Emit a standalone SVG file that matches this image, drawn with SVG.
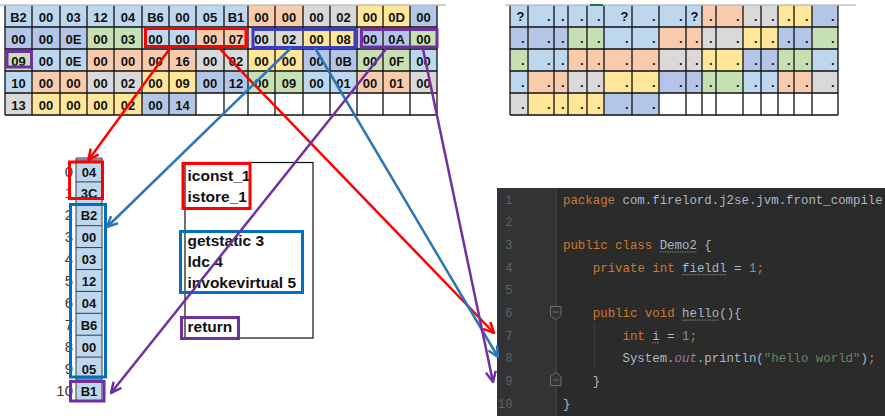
<svg xmlns="http://www.w3.org/2000/svg" width="885" height="416" viewBox="0 0 885 416">
<style>
.lb{fill:#BDD7EE}.pb{fill:#B4C6E7}.sa{fill:#F8CBAD}.gr{fill:#D9D9D9}.ye{fill:#FFE699}.gn{fill:#C6E0B4}.wh{fill:#FFFFFF}
.grid{stroke:#111;stroke-width:1.3;fill:none}
.hex{font-family:"Liberation Sans",Arial,sans-serif;font-weight:bold;font-size:13px;fill:#111;text-anchor:middle}
.dot{font-family:"Liberation Sans",Arial,sans-serif;font-weight:bold;font-size:13px;fill:#111;text-anchor:end}
.idx{font-family:"Liberation Sans",Arial,sans-serif;font-size:15px;fill:#4a3526;text-anchor:end}
.ins{font-family:"Liberation Sans",Arial,sans-serif;font-weight:bold;font-size:15.5px;fill:#111}
.code{font-family:"Liberation Mono","DejaVu Sans Mono",monospace;font-size:12.4px;fill:#A9B7C6;white-space:pre}
.ln{font-family:"Liberation Mono","DejaVu Sans Mono",monospace;font-size:12px;fill:#606366;text-anchor:end}
.kw{fill:#CC7832}.num{fill:#6897BB}.str{fill:#6A8759}.fld{fill:#9876AA;font-style:italic}
.wave{stroke:#8a8a70;stroke-width:1;stroke-dasharray:1.5 1;fill:none}
.box{fill:none;stroke-width:3}
.r{stroke:#FF0000}.b{stroke:#0070C0}.p{stroke:#7030A0}.ib{stroke:#3B3BC4}
.conn{fill:none;stroke-width:2.5}
</style>
<defs>
<marker id="ar" viewBox="0 0 12 12" refX="11" refY="6" markerWidth="12" markerHeight="12" markerUnits="userSpaceOnUse" orient="auto"><path d="M0.5,1 L11,6 L0.5,11" fill="none" stroke="#FF0000" stroke-width="2.5"/></marker>
<marker id="ab" viewBox="0 0 12 12" refX="11" refY="6" markerWidth="12" markerHeight="12" markerUnits="userSpaceOnUse" orient="auto"><path d="M0.5,1 L11,6 L0.5,11" fill="none" stroke="#2E75B6" stroke-width="2.5"/></marker>
<marker id="ap" viewBox="0 0 12 12" refX="11" refY="6" markerWidth="12" markerHeight="12" markerUnits="userSpaceOnUse" orient="auto"><path d="M0.5,1 L11,6 L0.5,11" fill="none" stroke="#7030A0" stroke-width="2.5"/></marker>
</defs>
<rect width="885" height="416" fill="#FFFFFF"/>

<g id="hex-table">
<rect class="lb" x="5" y="5" width="243" height="22"/><rect class="sa" x="248" y="5" width="55" height="22"/><rect class="gr" x="303" y="5" width="54" height="22"/><rect class="ye" x="357" y="5" width="53" height="22"/><rect class="pb" x="410" y="5" width="27" height="22"/>
<rect class="pb" x="5" y="27" width="82" height="22"/><rect class="gn" x="87" y="27" width="55" height="22"/><rect class="lb" x="142" y="27" width="54" height="22"/><rect class="sa" x="196" y="27" width="52" height="22"/><rect class="gr" x="248" y="27" width="55" height="22"/><rect class="ye" x="303" y="27" width="54" height="22"/><rect class="pb" x="357" y="27" width="53" height="22"/><rect class="gn" x="410" y="27" width="27" height="22"/>
<rect class="gn" x="5" y="49" width="27" height="22"/><rect class="lb" x="32" y="49" width="55" height="22"/><rect class="sa" x="87" y="49" width="109" height="22"/><rect class="gr" x="196" y="49" width="52" height="22"/><rect class="ye" x="248" y="49" width="55" height="22"/><rect class="pb" x="303" y="49" width="54" height="22"/><rect class="gn" x="357" y="49" width="53" height="22"/><rect class="lb" x="410" y="49" width="27" height="22"/>
<rect class="lb" x="5" y="71" width="27" height="22"/><rect class="sa" x="32" y="71" width="55" height="22"/><rect class="gr" x="87" y="71" width="55" height="22"/><rect class="ye" x="142" y="71" width="54" height="22"/><rect class="pb" x="196" y="71" width="52" height="22"/><rect class="gn" x="248" y="71" width="55" height="22"/><rect class="lb" x="303" y="71" width="54" height="22"/><rect class="sa" x="357" y="71" width="53" height="22"/><rect class="gr" x="410" y="71" width="27" height="22"/>
<rect class="gr" x="5" y="93" width="27" height="22"/><rect class="ye" x="32" y="93" width="110" height="22"/><rect class="pb" x="142" y="93" width="54" height="22"/>
<path class="grid" d="M5,27H437M5,49H437M5,71H437M5,93H437M5,115H437M5,5V115M32,5V115M60,5V115M87,5V115M114,5V115M142,5V115M169,5V115M196,5V115M224,5V115M248,5V115M275,5V115M303,5V115M330,5V115M357,5V115M383,5V115M410,5V115M437,5V115"/>
<path d="M0,5H446" stroke="#BFBFBF" stroke-width="1.5"/>
<text class="hex" y="21.5"><tspan x="18.5">B2</tspan><tspan x="46">00</tspan><tspan x="73.5">03</tspan><tspan x="100.5">12</tspan><tspan x="128">04</tspan><tspan x="155.5">B6</tspan><tspan x="182.5">00</tspan><tspan x="210">05</tspan><tspan x="236">B1</tspan><tspan x="261.5">00</tspan><tspan x="289">00</tspan><tspan x="316.5">00</tspan><tspan x="343.5">02</tspan><tspan x="370">00</tspan><tspan x="396.5">0D</tspan><tspan x="423.5">00</tspan></text>
<text class="hex" y="43.5"><tspan x="18.5">00</tspan><tspan x="46">00</tspan><tspan x="73.5">0E</tspan><tspan x="100.5">00</tspan><tspan x="128">03</tspan><tspan x="155.5">00</tspan><tspan x="182.5">00</tspan><tspan x="210">00</tspan><tspan x="236">07</tspan><tspan x="261.5">00</tspan><tspan x="289">02</tspan><tspan x="316.5">00</tspan><tspan x="343.5">08</tspan><tspan x="370">00</tspan><tspan x="396.5">0A</tspan><tspan x="423.5">00</tspan></text>
<text class="hex" y="65.5"><tspan x="18.5">09</tspan><tspan x="46">00</tspan><tspan x="73.5">0E</tspan><tspan x="100.5">00</tspan><tspan x="128">00</tspan><tspan x="155.5">00</tspan><tspan x="182.5">16</tspan><tspan x="210">00</tspan><tspan x="236">02</tspan><tspan x="261.5">00</tspan><tspan x="289">00</tspan><tspan x="316.5">00</tspan><tspan x="343.5">0B</tspan><tspan x="370">00</tspan><tspan x="396.5">0F</tspan><tspan x="423.5">00</tspan></text>
<text class="hex" y="87.5"><tspan x="18.5">10</tspan><tspan x="46">00</tspan><tspan x="73.5">00</tspan><tspan x="100.5">00</tspan><tspan x="128">02</tspan><tspan x="155.5">00</tspan><tspan x="182.5">09</tspan><tspan x="210">00</tspan><tspan x="236">12</tspan><tspan x="261.5">00</tspan><tspan x="289">09</tspan><tspan x="316.5">00</tspan><tspan x="343.5">01</tspan><tspan x="370">00</tspan><tspan x="396.5">01</tspan><tspan x="423.5">00</tspan></text>
<text class="hex" y="109.5"><tspan x="18.5">13</tspan><tspan x="46">00</tspan><tspan x="73.5">00</tspan><tspan x="100.5">00</tspan><tspan x="128">02</tspan><tspan x="155.5">00</tspan><tspan x="182.5">14</tspan></text>
<rect class="box r" x="145.5" y="28.5" width="100.5" height="18"/>
<rect class="box ib" x="253" y="29.5" width="102" height="18"/>
<rect class="box p" x="361.5" y="29.5" width="75.5" height="17.5"/>
<rect class="box p" x="7" y="51.5" width="24.5" height="15.5"/>
</g>

<g id="text-grid">
<rect class="lb" x="510" y="5" width="192" height="22"/><rect class="sa" x="702" y="5" width="41" height="22"/><rect class="gr" x="743" y="5" width="35" height="22"/><rect class="ye" x="778" y="5" width="34" height="22"/><rect class="pb" x="812" y="5" width="26" height="22"/>
<rect class="pb" x="510" y="27" width="58" height="22"/><rect class="gn" x="568" y="27" width="36" height="22"/><rect class="lb" x="604" y="27" width="55" height="22"/><rect class="sa" x="659" y="27" width="43" height="22"/><rect class="gr" x="702" y="27" width="41" height="22"/><rect class="ye" x="743" y="27" width="35" height="22"/><rect class="pb" x="778" y="27" width="34" height="22"/><rect class="gn" x="812" y="27" width="26" height="22"/>
<rect class="gn" x="510" y="49" width="18" height="22"/><rect class="lb" x="528" y="49" width="40" height="22"/><rect class="sa" x="568" y="49" width="91" height="22"/><rect class="gr" x="659" y="49" width="43" height="22"/><rect class="ye" x="702" y="49" width="41" height="22"/><rect class="pb" x="743" y="49" width="35" height="22"/><rect class="gn" x="778" y="49" width="34" height="22"/><rect class="lb" x="812" y="49" width="26" height="22"/>
<rect class="lb" x="510" y="71" width="18" height="22"/><rect class="sa" x="528" y="71" width="40" height="22"/><rect class="gr" x="568" y="71" width="36" height="22"/><rect class="ye" x="604" y="71" width="55" height="22"/><rect class="pb" x="659" y="71" width="43" height="22"/><rect class="gn" x="702" y="71" width="41" height="22"/><rect class="lb" x="743" y="71" width="35" height="22"/><rect class="sa" x="778" y="71" width="34" height="22"/><rect class="gr" x="812" y="71" width="26" height="22"/>
<rect class="gr" x="510" y="93" width="18" height="22"/><rect class="ye" x="528" y="93" width="76" height="22"/><rect class="pb" x="604" y="93" width="55" height="22"/>
<path class="grid" d="M510,27H838M510,49H838M510,71H838M510,93H838M510,115H838M510,5V115M528,5V115M554,5V115M568,5V115M587,5V115M604,5V115M632,5V115M659,5V115M686,5V115M702,5V115M716,5V115M743,5V115M761,5V115M778,5V115M794,5V115M812,5V115M838,5V115"/>
<path d="M505,5H856" stroke="#BFBFBF" stroke-width="1.5"/>
<path d="M590,5H603" stroke="#217346" stroke-width="2"/>
<text class="dot" y="21"><tspan x="524.5">?</tspan><tspan x="550.5">.</tspan><tspan x="564.5">.</tspan><tspan x="583.5">.</tspan><tspan x="600.5">.</tspan><tspan x="628.5">?</tspan><tspan x="655.5">.</tspan><tspan x="682.5">.</tspan><tspan x="698.5">?</tspan><tspan x="712.5">.</tspan><tspan x="739.5">.</tspan><tspan x="757.5">.</tspan><tspan x="774.5">.</tspan><tspan x="790.5">.</tspan><tspan x="808.5">.</tspan><tspan x="834.5">.</tspan></text>
<text class="dot" y="43"><tspan x="524.5">.</tspan><tspan x="550.5">.</tspan><tspan x="564.5">.</tspan><tspan x="583.5">.</tspan><tspan x="600.5">.</tspan><tspan x="628.5">.</tspan><tspan x="655.5">.</tspan><tspan x="682.5">.</tspan><tspan x="698.5">.</tspan><tspan x="712.5">.</tspan><tspan x="739.5">.</tspan><tspan x="757.5">.</tspan><tspan x="774.5">.</tspan><tspan x="790.5">.</tspan><tspan x="808.5">.</tspan><tspan x="834.5">.</tspan></text>
<text class="dot" y="65"><tspan x="524.5">.</tspan><tspan x="550.5">.</tspan><tspan x="564.5">.</tspan><tspan x="583.5">.</tspan><tspan x="600.5">.</tspan><tspan x="628.5">.</tspan><tspan x="655.5">.</tspan><tspan x="682.5">.</tspan><tspan x="698.5">.</tspan><tspan x="712.5">.</tspan><tspan x="739.5">.</tspan><tspan x="757.5">.</tspan><tspan x="774.5">.</tspan><tspan x="790.5">.</tspan><tspan x="808.5">.</tspan><tspan x="834.5">.</tspan></text>
<text class="dot" y="87"><tspan x="524.5">.</tspan><tspan x="550.5">.</tspan><tspan x="564.5">.</tspan><tspan x="583.5">.</tspan><tspan x="600.5">.</tspan><tspan x="628.5">.</tspan><tspan x="655.5">.</tspan><tspan x="682.5">.</tspan><tspan x="698.5">.</tspan><tspan x="712.5">.</tspan><tspan x="739.5">.</tspan><tspan x="757.5">.</tspan><tspan x="774.5">.</tspan><tspan x="790.5">.</tspan><tspan x="808.5">.</tspan><tspan x="834.5">.</tspan></text>
<text class="dot" y="109"><tspan x="524.5">.</tspan><tspan x="550.5">.</tspan><tspan x="564.5">.</tspan><tspan x="583.5">.</tspan><tspan x="600.5">.</tspan><tspan x="628.5">.</tspan><tspan x="655.5">.</tspan></text>
</g>

<g id="bytes-column">
<rect class="lb" x="76" y="158" width="26" height="243"/>
<path d="M76,158V401M102,158V401M76,158H102M76,160H102M76,181.9H102M76,203.8H102M76,225.7H102M76,247.6H102M76,269.5H102M76,291.4H102M76,313.3H102M76,335.2H102M76,357.1H102M76,379H102M76,400.9H102" stroke="#3a3a3a" stroke-width="1" fill="none"/>
<text class="hex" x="89"><tspan x="89" y="176.5">04</tspan><tspan x="89" y="198.4">3C</tspan><tspan x="89" y="220.3">B2</tspan><tspan x="89" y="242.2">00</tspan><tspan x="89" y="264.1">03</tspan><tspan x="89" y="286">12</tspan><tspan x="89" y="307.9">04</tspan><tspan x="89" y="329.8">B6</tspan><tspan x="89" y="351.7">00</tspan><tspan x="89" y="373.6">05</tspan><tspan x="89" y="395.5">B1</tspan></text>
<text class="idx"><tspan x="73" y="176.5">0</tspan><tspan x="73" y="198.4">1</tspan><tspan x="73" y="220.3">2</tspan><tspan x="73" y="242.2">3</tspan><tspan x="73" y="264.1">4</tspan><tspan x="73" y="286">5</tspan><tspan x="73" y="307.9">6</tspan><tspan x="73" y="329.8">7</tspan><tspan x="73" y="351.7">8</tspan><tspan x="73" y="373.6">9</tspan><tspan x="73" y="395.5">10</tspan></text>
<rect class="box r" x="69.5" y="162" width="33" height="36.5"/>
<rect class="box b" x="70.5" y="204.5" width="35" height="172.5"/>
<rect class="box p" x="70.5" y="381.5" width="33.5" height="19.5"/>
</g>

<g id="instructions">
<rect x="185" y="162.5" width="128" height="175.5" fill="#FFFFFF" stroke="#111" stroke-width="1.2"/>
<text class="ins" x="187.5" y="181">iconst_1</text>
<text class="ins" x="187.5" y="202">istore_1</text>
<text class="ins" x="187.5" y="245.5">getstatic 3</text>
<text class="ins" x="187.5" y="266.5">ldc 4</text>
<text class="ins" x="187.5" y="287.5">invokevirtual 5</text>
<text class="ins" x="187.5" y="332">return</text>
<rect class="box r" x="183" y="163.5" width="67" height="45"/>
<rect class="box b" x="180.5" y="231.5" width="122" height="61"/>
<rect class="box p" x="181.5" y="317.5" width="57" height="21"/>
</g>

<g id="code-panel">
<rect x="497" y="188" width="388" height="228" fill="#2B2B2B"/>
<rect x="497" y="188" width="59" height="228" fill="#313335"/>
<path d="M556,188V416" stroke="#4a4a4a" stroke-width="1"/>
<path d="M594.5,324V368" stroke="#3c3c3c" stroke-width="1"/>
<path d="M550.5,306.5H561V315.5L555.75,320L550.5,315.5Z M552.8,312H558.7" fill="#313335" stroke="#6e6e6e" stroke-width="1"/>
<path d="M550.5,385.5H561V376.5L555.75,372L550.5,376.5Z M552.8,380H558.7" fill="#313335" stroke="#6e6e6e" stroke-width="1"/>
<text class="ln"><tspan x="512.5" y="203.5">1</tspan><tspan x="512.5" y="226.2">2</tspan><tspan x="512.5" y="248.9">3</tspan><tspan x="512.5" y="271.6">4</tspan><tspan x="512.5" y="294.3">5</tspan><tspan x="512.5" y="317">6</tspan><tspan x="512.5" y="339.7">7</tspan><tspan x="512.5" y="362.4">8</tspan><tspan x="512.5" y="385.1">9</tspan><tspan x="512.5" y="407.8">10</tspan></text>
<text class="code" x="563" y="203.5"><tspan class="kw">package</tspan> com.firelord.j2se.jvm.front_compile</text>
<text class="code" x="563" y="248.9"><tspan class="kw">public class</tspan> Demo2 {</text>
<text class="code" x="592.8" y="271.6"><tspan class="kw">private int</tspan> fieldl = <tspan class="num">1</tspan><tspan class="kw">;</tspan></text>
<text class="code" x="592.8" y="317"><tspan class="kw">public void</tspan> hello(){</text>
<text class="code" x="622.5" y="339.7"><tspan class="kw">int</tspan> i = <tspan class="num">1</tspan><tspan class="kw">;</tspan></text>
<text class="code" x="622.5" y="362.4">System.<tspan class="fld">out</tspan>.println(<tspan class="str">"hello world"</tspan>)<tspan class="kw">;</tspan></text>
<text class="code" x="592.8" y="385.1">}</text>
<text class="code" x="563" y="407.8">}</text>
<path class="wave" d="M659.7,252H696.9M682.1,274.7H726.7M682.1,320.1H719.3M652.3,342.8H659.7"/>
</g>

<g id="connectors">
<path class="conn" stroke="#FF0000" marker-end="url(#ar)" d="M171,47L88.5,160"/>
<path class="conn" stroke="#FF0000" marker-end="url(#ar)" d="M219,48L494,333"/>
<path class="conn" stroke="#2E75B6" marker-end="url(#ab)" d="M291,48L107,227"/>
<path class="conn" stroke="#2E75B6" marker-end="url(#ab)" d="M315,48L498,357"/>
<path class="conn" stroke="#7030A0" marker-end="url(#ap)" d="M386,49L111,393"/>
<path class="conn" stroke="#7030A0" marker-end="url(#ap)" d="M423,49L493,382"/>
</g>
</svg>
